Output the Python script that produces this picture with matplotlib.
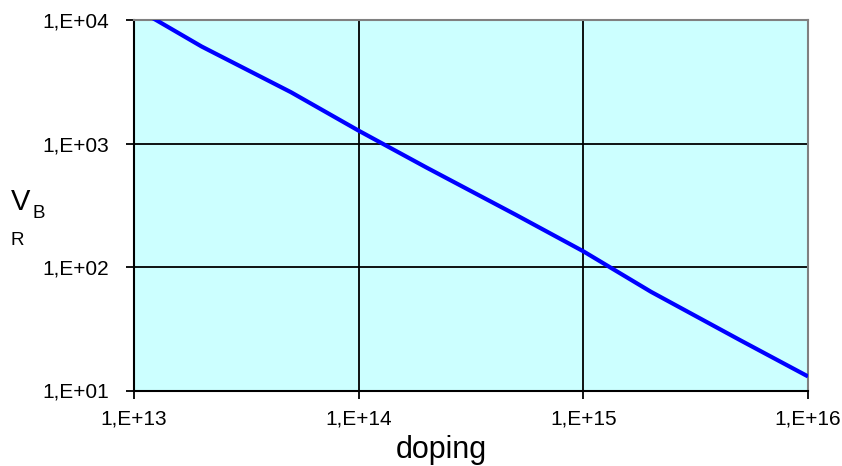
import numpy as np
import matplotlib
matplotlib.use("Agg")
import matplotlib.pyplot as plt
from matplotlib.ticker import FixedLocator, FuncFormatter, NullLocator

plt.rcParams['font.family'] = ['Liberation Sans', 'DejaVu Sans']

# doping concentration vs breakdown voltage
doping = [1e13, 2e13, 5e13, 1e14, 2e14, 5e14, 1e15, 2e15, 5e15, 1e16]
vbr = [12700, 6100, 2600, 1270, 640, 265, 134, 63, 25.5, 13.0]

x_ticks = [1e13, 1e14, 1e15, 1e16]
y_ticks = [1e1, 1e2, 1e3, 1e4]

W, H = 842, 466
fig = plt.figure(figsize=(W / 100, H / 100), dpi=100)
ax = fig.add_axes([134 / W, 1 - 390.5 / H, (808 - 134) / W, (390.5 - 20) / H])
ax.set_facecolor('#CCFFFF')

ax.plot(doping, vbr, color='#0000FF', lw=3.0, solid_capstyle='butt', zorder=3)

ax.set_xscale('log')
ax.set_yscale('log')
ax.set_xlim(1e13, 1e16)
ax.set_ylim(1e1, 1e4)

fmt = FuncFormatter(lambda v, pos: '1,E+%02d' % int(round(np.log10(v))))
ax.xaxis.set_major_locator(FixedLocator(x_ticks))
ax.yaxis.set_major_locator(FixedLocator(y_ticks))
ax.xaxis.set_minor_locator(NullLocator())
ax.yaxis.set_minor_locator(NullLocator())
ax.xaxis.set_major_formatter(fmt)
ax.yaxis.set_major_formatter(fmt)

ax.grid(True, color='black', lw=1.3, zorder=1)
ax.tick_params(axis='both', direction='out', length=6, width=1.3, color='black',
               labelsize=15)
ax.tick_params(axis='y', pad=12)
ax.tick_params(axis='x', pad=8)

for side in ['top', 'right']:
    ax.spines[side].set_color('#808080')
    ax.spines[side].set_linewidth(1.5)
for side in ['left', 'bottom']:
    ax.spines[side].set_color('black')
    ax.spines[side].set_linewidth(1.5)

# axis titles
fig.text(441 / W, 1 - 458 / H, 'doping', fontsize=22, ha='center', va='baseline')
fig.text(11 / W, 1 - 210 / H, 'V', fontsize=21, ha='left', va='baseline')
fig.text(33 / W, 1 - 218 / H, 'B', fontsize=13.5, ha='left', va='baseline')
fig.text(11 / W, 1 - 245 / H, 'R', fontsize=13.5, ha='left', va='baseline')

plt.savefig('out.png', dpi=100)
